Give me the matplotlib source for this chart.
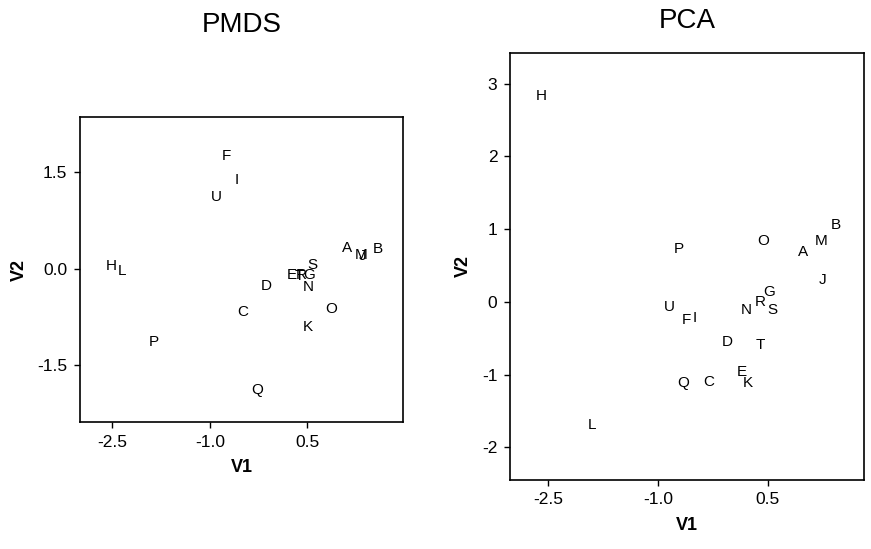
import matplotlib
matplotlib.use("Agg")
import matplotlib.pyplot as plt

plt.rcParams['font.family'] = ['Liberation Sans', 'DejaVu Sans']

# PMDS configuration
pmds_labels = ['A', 'B', 'C', 'D', 'E', 'F', 'G', 'H', 'I', 'J', 'K',
               'L', 'M', 'N', 'O', 'P', 'Q', 'R', 'S', 'T', 'U']
pmds_v1 = [1.11, 1.58, -0.50, -0.14, 0.26, -0.74, 0.53, -2.52, -0.59, 1.35, 0.50,
           -2.35, 1.32, 0.51, 0.87, -1.87, -0.28, 0.40, 0.58, 0.38, -0.90]
pmds_v2 = [0.32, 0.31, -0.67, -0.26, -0.10, 1.76, -0.09, 0.05, 1.38, 0.20, -0.91,
           -0.03, 0.22, -0.28, -0.63, -1.13, -1.88, -0.10, 0.06, -0.11, 1.12]

# PCA configuration
pca_labels = ['A', 'B', 'C', 'D', 'E', 'F', 'G', 'H', 'I', 'J', 'K',
              'L', 'M', 'N', 'O', 'P', 'Q', 'R', 'S', 'T', 'U']
pca_v1 = [0.98, 1.43, -0.31, -0.05, 0.14, -0.61, 0.51, -2.59, -0.50, 1.25, 0.23,
          -1.90, 1.23, 0.21, 0.43, -0.71, -0.66, 0.40, 0.56, 0.39, -0.84]
pca_v2 = [0.69, 1.06, -1.10, -0.55, -0.97, -0.25, 0.14, 2.83, -0.22, 0.30, -1.12,
          -1.70, 0.83, -0.12, 0.83, 0.73, -1.11, 0.00, -0.11, -0.60, -0.07]

fig = plt.figure(figsize=(8.71, 5.49), dpi=100)

ax1 = fig.add_axes([0.0918, 0.2313, 0.3709, 0.5556])
ax2 = fig.add_axes([0.5855, 0.1257, 0.4064, 0.7778])


def draw(ax, labels, xs, ys, title, xlim, ylim, yticks, yticklabels, titlepad):
    for lab, x, y in zip(labels, xs, ys):
        ax.text(x, y, lab, ha='center', va='center', fontsize=11)
    ax.set_xlim(*xlim)
    ax.set_ylim(*ylim)
    ax.set_xticks([-2.5, -1.0, 0.5])
    ax.set_xticklabels(['-2.5', '-1.0', '0.5'])
    ax.set_yticks(yticks)
    ax.set_yticklabels(yticklabels)
    ax.tick_params(direction='out', length=4, width=1, labelsize=12.5, pad=5)
    for sp in ax.spines.values():
        sp.set_linewidth(1.2)
    ax.set_xlabel('V1', fontsize=13, fontweight='bold', labelpad=7)
    ax.set_ylabel('V2', fontsize=13, fontweight='bold', labelpad=7)
    ax.set_title(title, fontsize=20, pad=titlepad)


draw(ax1, pmds_labels, pmds_v1, pmds_v2, 'PMDS', (-3.0, 1.97), (-2.38, 2.36),
     [-1.5, 0.0, 1.5], ['-1.5', '0.0', '1.5'], 61)
draw(ax2, pca_labels, pca_v1, pca_v2, 'PCA', (-3.02, 1.81), (-2.45, 3.42),
     [-2, -1, 0, 1, 2, 3], ['-2', '-1', '0', '1', '2', '3'], 18)

fig.savefig('out.png', dpi=100)
